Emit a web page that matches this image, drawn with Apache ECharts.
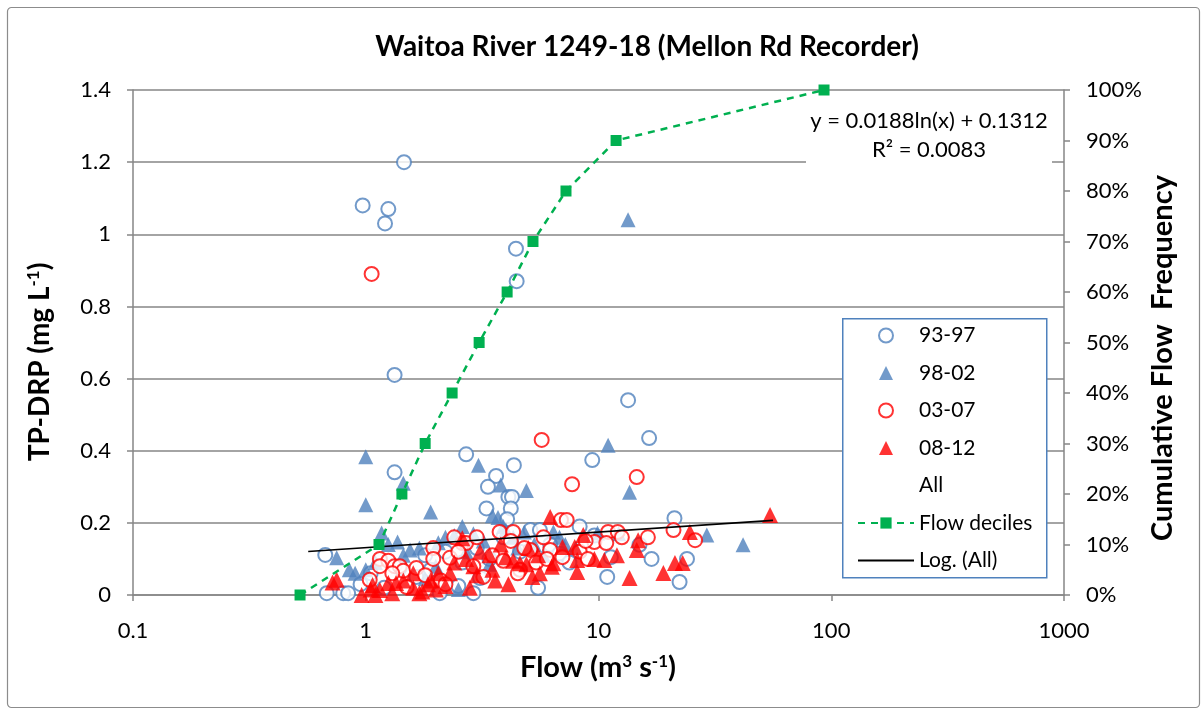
<!DOCTYPE html>
<html><head><meta charset="utf-8">
<script src="https://cdn.jsdelivr.net/npm/echarts@6/dist/echarts.min.js"></script>
<style>html,body{margin:0;padding:0;background:#fff}#c{width:1203px;height:711px}</style>
</head><body><div id="c"></div>
<script>
// ---- data ----
const chartTitle = 'Waitoa River 1249-18 (Mellon Rd Recorder)';
const xTickLabels = ['0.1', '1', '10', '100', '1000'];
const seriesNames = ['93-97', '98-02', '03-07', '08-12', 'All', 'Flow deciles', 'Log. (All)'];

const s93_97 = [
  [1.46,1.20],[0.97,1.08],[1.25,1.07],[1.21,1.03],[1.33,0.61],[4.42,0.96],[4.45,0.87],[13.4,0.54],[16.5,0.435],[9.4,0.374],
  [1.33,0.34],[2.70,0.39],[4.33,0.36],[3.63,0.33],[3.35,0.30],[4.10,0.272],[4.25,0.272],[3.30,0.24],[4.20,0.24],[4.05,0.21],
  [0.67,0.111],[0.68,0.005],[0.80,0.005],[0.84,0.005],[2.08,0.005],[5.5,0.02],[3.1,0.047],[2.5,0.025],[0.95,0.03],[1.05,0.06],
  [1.40,0.075],[1.65,0.05],[1.9,0.07],[2.2,0.12],[2.6,0.09],[3.0,0.13],[3.4,0.10],[3.9,0.16],[4.6,0.12],[5.1,0.18],
  [5.6,0.18],[6.2,0.14],[6.8,0.115],[7.5,0.09],[8.3,0.19],[9.6,0.165],[10.9,0.05],[11.3,0.105],[15.0,0.139],[16.9,0.10],
  [21.2,0.213],[24.0,0.10],[22.3,0.036],[1.2,0.02],[2.9,0.005],[1.8,0.11]
];
const s98_02 = [
  [13.4,1.04],[1.0,0.383],[1.0,0.25],[1.45,0.31],[1.9,0.23],[3.05,0.36],[3.8,0.305],[4.9,0.29],[11.0,0.415],[13.6,0.285],
  [2.6,0.19],[1.17,0.172],[1.37,0.147],[1.55,0.125],[1.45,0.11],[0.75,0.103],[0.85,0.07],[1.0,0.07],[2.2,0.16],
  [2.4,0.165],[2.9,0.17],[3.2,0.15],[3.5,0.22],[3.7,0.215],[4.0,0.18],[4.3,0.16],[4.8,0.175],[5.3,0.14],[6.4,0.175],
  [6.8,0.16],[9.9,0.172],[29.2,0.166],[41.8,0.139],[2.5,0.015],[1.8,0.045],[2.0,0.08],[2.7,0.12],[3.4,0.085],[4.5,0.13],
  [5.8,0.11],[7.2,0.14],[8.0,0.13],[1.25,0.14],[1.7,0.13],[2.05,0.145],[3.9,0.19],[0.9,0.06],[1.1,0.09],[12.2,0.17]
];
const s03_07 = [
  [1.06,0.89],[5.7,0.43],[7.7,0.307],[14.6,0.327],[6.9,0.208],[7.3,0.208],[11.0,0.175],[12.1,0.175],[12.6,0.16],[16.3,0.16],
  [21.0,0.18],[26.0,0.152],[9.6,0.147],[10.8,0.144],[6.2,0.125],[5.1,0.125],[7.0,0.105],[4.6,0.07],[3.76,0.175],[4.3,0.175],
  [1.15,0.10],[1.25,0.095],[1.15,0.08],[1.33,0.08],[1.40,0.08],[1.45,0.067],[1.65,0.075],[1.95,0.13],[1.95,0.10],[2.3,0.103],
  [2.6,0.144],[2.7,0.144],[2.5,0.12],[2.9,0.08],[3.2,0.05],[1.04,0.042],[1.5,0.022],[2.1,0.04],[3.5,0.11],[3.9,0.095],
  [4.2,0.15],[4.8,0.13],[5.4,0.09],[6.0,0.10],[8.3,0.12],[8.8,0.15],[2.4,0.16],[3.0,0.16],[1.3,0.06],[1.8,0.055],
  [2.2,0.03],[4.5,0.06],[5.8,0.16],[9.0,0.10]
];
const s08_12 = [
  [6.2,0.216],[54.6,0.222],[24.7,0.175],[21.3,0.089],[23.0,0.089],[19.0,0.061],[14.8,0.152],[14.6,0.125],[8.6,0.166],[7.0,0.133],
  [7.9,0.133],[8.1,0.097],[9.6,0.10],[10.6,0.097],[6.3,0.078],[8.1,0.064],[13.6,0.047],[5.6,0.06],[6.4,0.088],[2.6,0.157],
  [0.75,0.042],[0.72,0.035],[1.07,0.028],[1.15,0.014],[0.96,0.0],[1.25,0.033],[1.35,0.033],[1.6,0.02],[1.7,0.005],[1.75,0.01],
  [1.85,0.03],[1.9,0.04],[2.05,0.06],[2.3,0.06],[2.4,0.09],[2.7,0.10],[2.9,0.08],[3.1,0.12],[3.4,0.11],[3.5,0.07],
  [3.6,0.04],[3.8,0.14],[4.0,0.105],[4.3,0.095],[4.6,0.088],[4.9,0.085],[5.2,0.05],[1.05,0.015],[1.1,0.0],[1.3,0.005],
  [1.45,0.04],[2.2,0.025],[3.0,0.055],[5.0,0.13],[5.5,0.11],[12.0,0.11],[1.6,0.06],[2.0,0.015],[4.1,0.03],[2.8,0.02]
];
const flowDecileFlow = [0.522, 1.14, 1.43, 1.80, 2.35, 3.07, 4.05, 5.23, 7.25, 11.9, 93.1];
const flowDecilePct  = [0, 10, 20, 30, 40, 50, 60, 70, 80, 90, 100];
const trendFlow = [0.566, 56.2];
const trendTPDRP = [0.1205, 0.207];
const trendEquation = 'y = 0.0188ln(x) + 0.1312';
const trendR2 = 'R² = 0.0083';

// ---- chart ----
const FONT = 'Lato';
const chart = echarts.init(document.getElementById('c'), null, {renderer: 'canvas'});
const blue = '#4F81BD', red = '#FF0000', green = '#00B050', gridGrey = '#868686';
const tickVals = [0.1, 1, 10, 100, 1000];
const triIcon = 'path://M5,0L10,10L0,10Z';

const option = {
  backgroundColor: '#fff',
  animation: false,
  textStyle: {fontFamily: FONT, color: '#000'},
  grid: {left: 133, right: 139, top: 90, bottom: 116, containLabel: false},
  xAxis: {
    type: 'log', logBase: 10, min: 0.1, max: 1000,
    axisLine: {show: true, lineStyle: {color: gridGrey, width: 1.5}},
    axisTick: {show: true, inside: false, length: 6, lineStyle: {color: gridGrey, width: 1.5}},
    minorTick: {show: false},
    splitLine: {show: false},
    axisLabel: {fontSize: 22, color: '#000', fontFamily: FONT, margin: 25,
      formatter: v => { const i = tickVals.findIndex(t => Math.abs(Math.log10(t) - Math.log10(v)) < 1e-6); return i >= 0 ? xTickLabels[i] : ''; }}
  },
  yAxis: [{
    type: 'value', min: 0, max: 1.4, interval: 0.2, position: 'left',
    axisLine: {show: true, lineStyle: {color: gridGrey, width: 1.5}},
    axisTick: {show: true, length: 6, lineStyle: {color: gridGrey, width: 1.5}},
    splitLine: {show: true, lineStyle: {color: gridGrey, width: 1.5}},
    axisLabel: {fontSize: 22, color: '#000', fontFamily: FONT, margin: 22}
  }, {
    type: 'value', min: 0, max: 100, interval: 10, position: 'right',
    axisLine: {show: true, lineStyle: {color: gridGrey, width: 1.5}},
    axisTick: {show: true, length: 6, lineStyle: {color: gridGrey, width: 1.5}},
    splitLine: {show: false},
    axisLabel: {fontSize: 22, color: '#000', fontFamily: FONT, margin: 22, formatter: '{value}%'}
  }],
  legend: {
    orient: 'vertical', left: 852, top: 320, itemWidth: 56, itemHeight: 14, itemGap: 16.5, z: 20,
    selectedMode: false, symbolKeepAspect: true,
    textStyle: {fontSize: 21, fontFamily: FONT, color: '#000'},
    data: [
      {name: seriesNames[0]}, {name: seriesNames[1], icon: triIcon}, {name: seriesNames[2]}, {name: seriesNames[3], icon: triIcon},
      {name: seriesNames[4], icon: 'none'}, {name: seriesNames[5]},
      {name: seriesNames[6], itemStyle: {color: 'rgba(0,0,0,0)', borderWidth: 0, opacity: 0}}
    ]
  },
  graphic: [
    {type: 'rect', left: 5, top: 5, shape: {width: 1192, height: 700, r: 4}, style: {fill: 'none', stroke: '#8C8C8C', lineWidth: 1.2}, silent: true, z: 100},
    {type: 'rect', left: 842, top: 318, shape: {width: 204, height: 259}, style: {fill: '#fff', stroke: blue, lineWidth: 1.5}, z: 6, silent: true},
    {type: 'text', x: 647, y: 47, style: {text: chartTitle, font: 'bold 28px ' + FONT, fill: '#000', textAlign: 'center', textVerticalAlign: 'middle'}, z: 100},
    {type: 'text', x: 598, y: 668, style: {text: 'Flow (m{sup|3} s{sup|-1})', font: 'bold 29px ' + FONT, fill: '#000', textAlign: 'center', textVerticalAlign: 'middle',
       rich: {sup: {fontSize: 17, fontWeight: 'bold', fontFamily: FONT, padding: [0,0,12,0]}}}, z: 100},
    {type: 'text', x: 40, y: 362, rotation: Math.PI/2, style: {text: 'TP-DRP (mg L{sup|-1})', font: 'bold 28px ' + FONT, fill: '#000', textAlign: 'center', textVerticalAlign: 'middle',
       rich: {sup: {fontSize: 17, fontWeight: 'bold', fontFamily: FONT, padding: [0,0,12,0]}}}, z: 100},
    {type: 'text', x: 1163, y: 358, rotation: Math.PI/2, style: {text: 'Cumulative Flow  Frequency', font: 'bold 29px ' + FONT, fill: '#000', textAlign: 'center', textVerticalAlign: 'middle'}, z: 100},
    {type: 'rect', left: 806, top: 102, shape: {width: 246, height: 64}, style: {fill: '#fff'}, z: 1, silent: true},
    {type: 'text', x: 929, y: 121, style: {text: trendEquation, font: '22px ' + FONT, fill: '#000', textAlign: 'center', textVerticalAlign: 'middle'}, z: 100},
    {type: 'text', x: 929, y: 150, style: {text: trendR2, font: '22px ' + FONT, fill: '#000', textAlign: 'center', textVerticalAlign: 'middle'}, z: 100}
  ],
  series: [
    {name: seriesNames[0], type: 'scatter', data: s93_97, symbol: 'emptyCircle', symbolSize: 14, z: 3,
      itemStyle: {color: blue, borderColor: blue, borderWidth: 1.6}},
    {name: seriesNames[1], type: 'scatter', data: s98_02, symbol: 'triangle', symbolSize: 15, z: 3,
      itemStyle: {color: blue}},
    {name: seriesNames[2], type: 'scatter', data: s03_07, symbol: 'emptyCircle', symbolSize: 14, z: 3,
      itemStyle: {color: red, borderColor: red, borderWidth: 1.6}},
    {name: seriesNames[3], type: 'scatter', data: s08_12, symbol: 'triangle', symbolSize: 16, z: 3,
      itemStyle: {color: red}},
    {name: seriesNames[4], type: 'scatter', data: [], symbol: 'none'},
    {name: seriesNames[5], type: 'line', yAxisIndex: 1, z: 4,
      data: flowDecileFlow.map((f, i) => [f, flowDecilePct[i]]),
      symbol: 'rect', symbolSize: 11, showSymbol: true,
      lineStyle: {color: green, width: 2.5, type: [7, 6]}, itemStyle: {color: green}},
    {name: seriesNames[6], type: 'line', z: 4,
      data: trendFlow.map((f, i) => [f, trendTPDRP[i]]),
      showSymbol: false, symbol: 'none', lineStyle: {color: '#000', width: 1.6}, itemStyle: {color: '#000'}}
  ]
};
chart.setOption(option);
</script></body></html>
